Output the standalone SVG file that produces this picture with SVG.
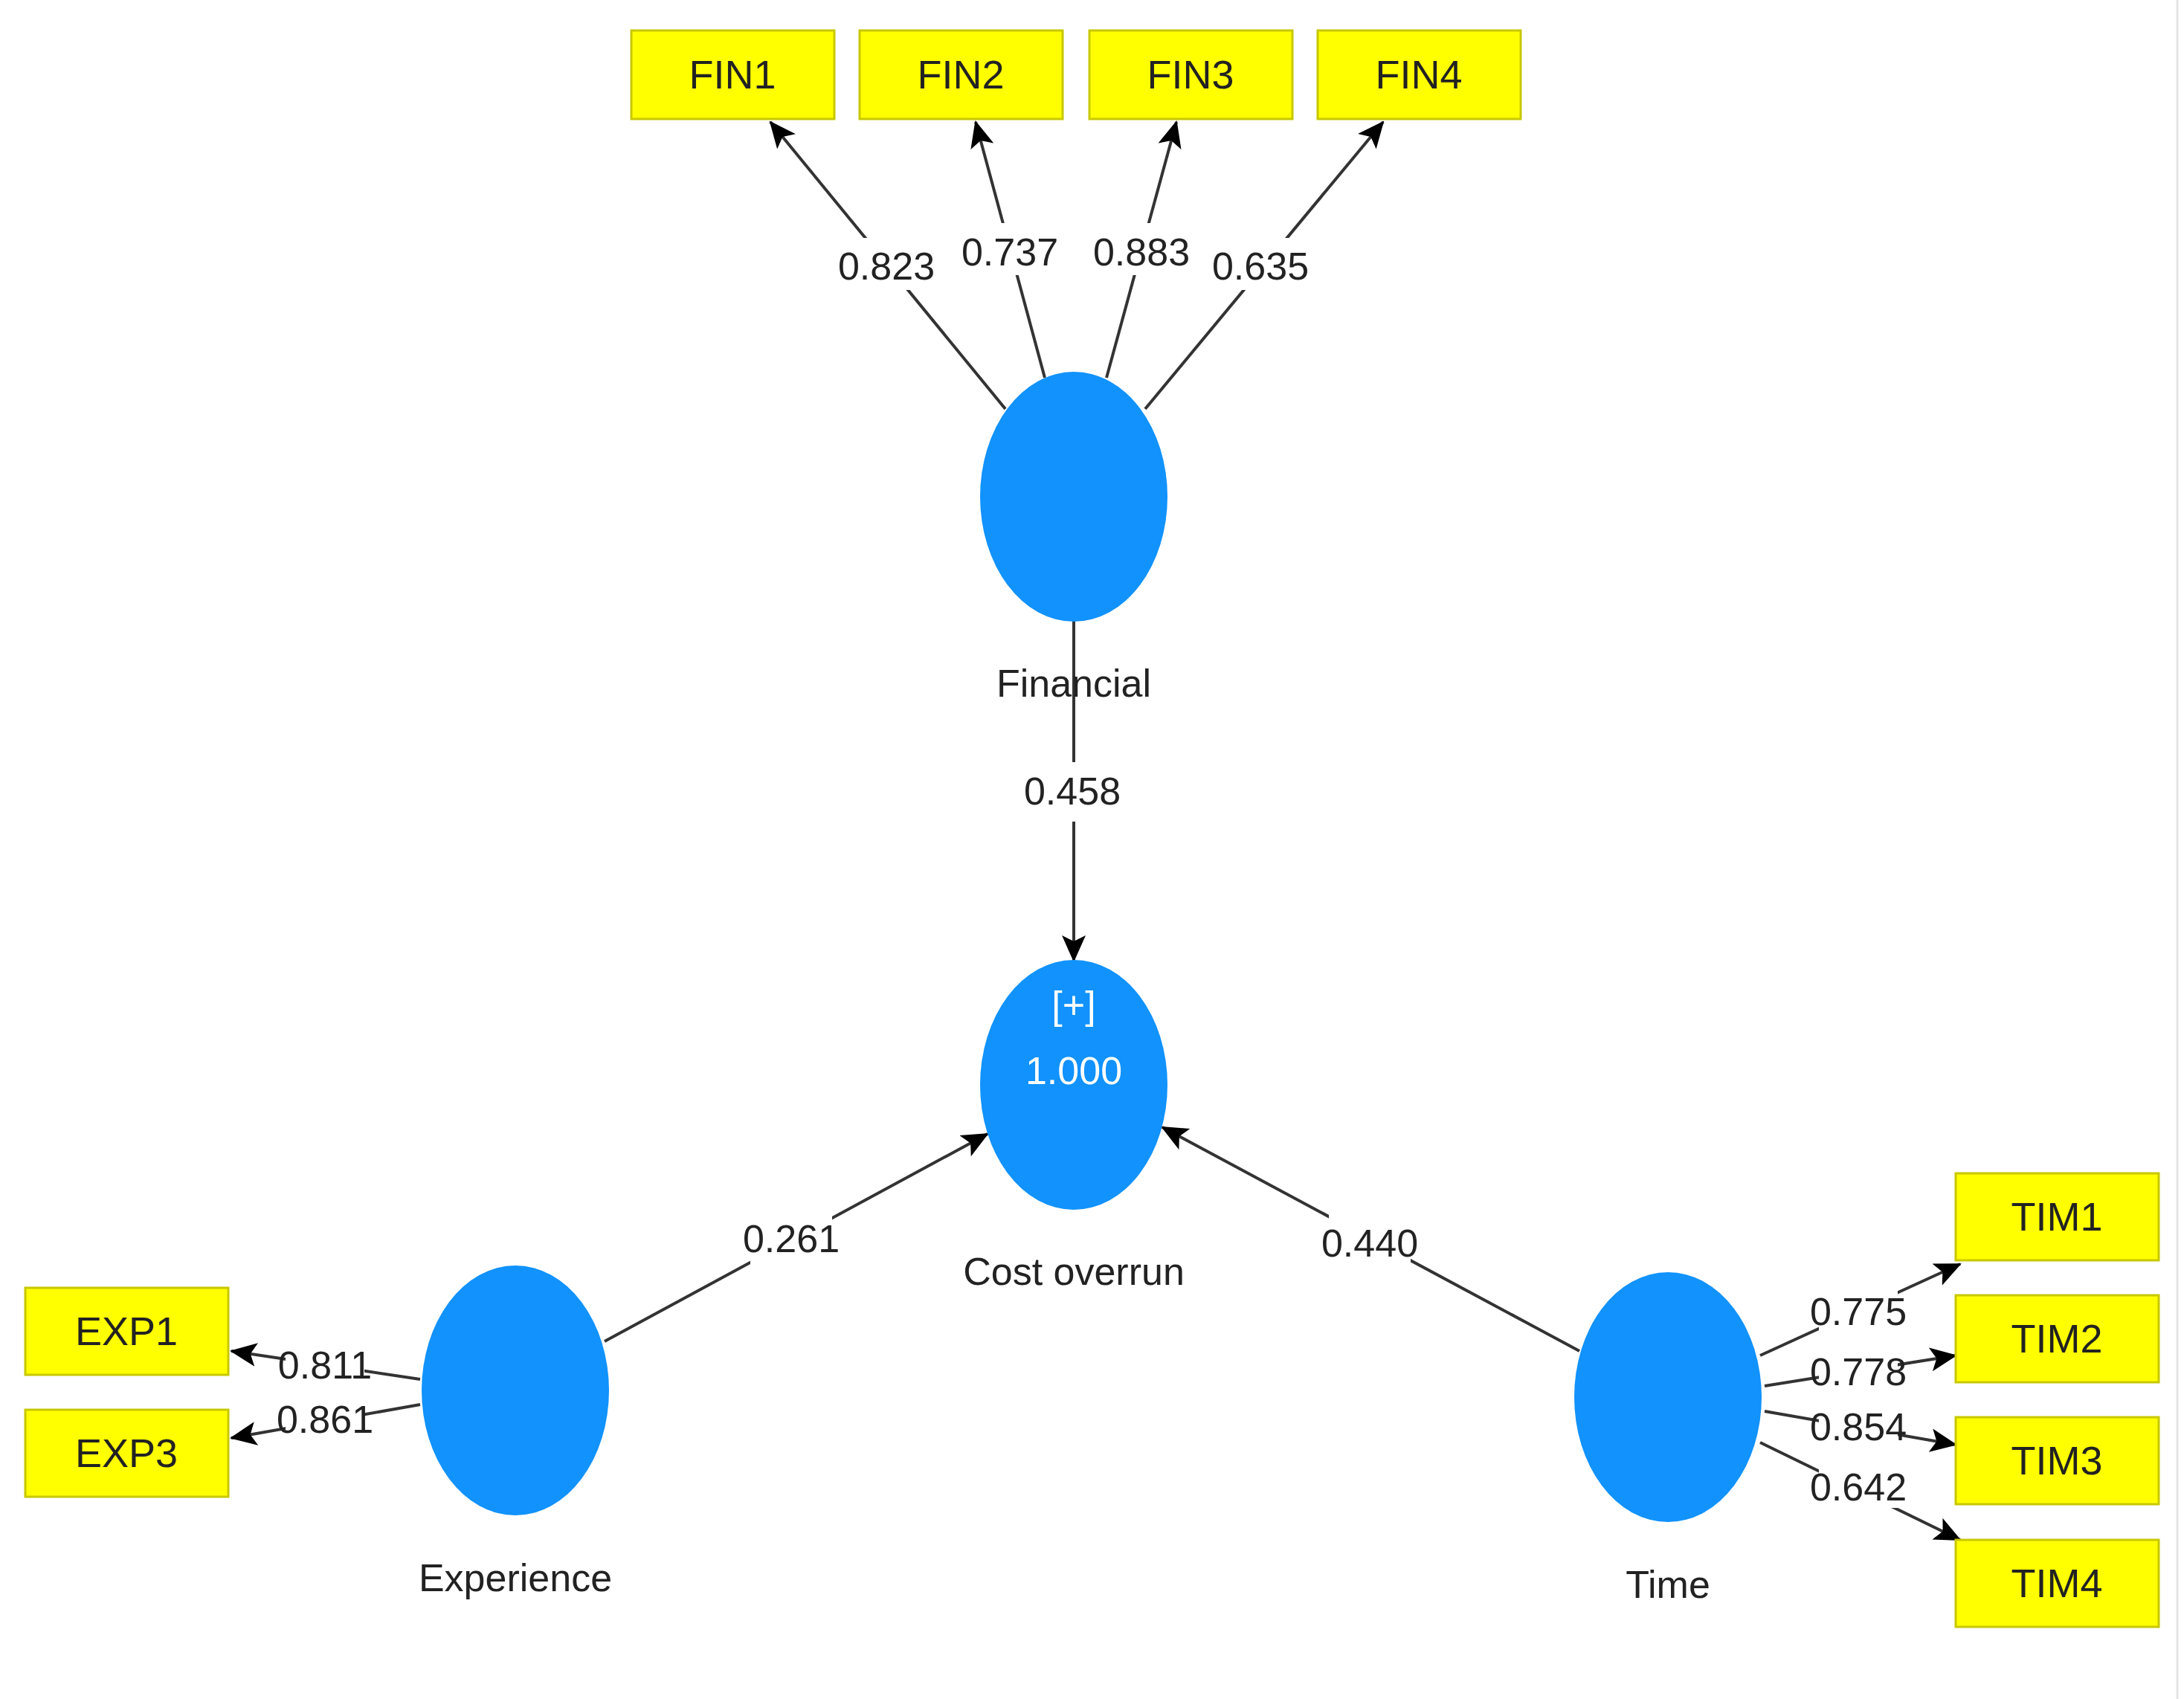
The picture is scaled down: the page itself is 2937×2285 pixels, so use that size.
<svg xmlns="http://www.w3.org/2000/svg" width="2937" height="2285" viewBox="0 0 2937 2285">
<style>
.ind rect{fill:#ffff00;stroke:#c8c800;stroke-width:3}
.ind text{font-family:"Liberation Sans Narrow","Liberation Sans",sans-serif;font-size:54px;fill:#222;text-anchor:middle}
.lat ellipse{fill:#1192fc}
.nm{font-family:"Liberation Sans Narrow","Liberation Sans",sans-serif;font-size:52px;fill:#222;text-anchor:middle}
.in{font-family:"Liberation Sans Narrow","Liberation Sans",sans-serif;font-size:52px;fill:#fff;text-anchor:middle}
.c line{stroke:#333;stroke-width:4;marker-end:url(#ah)}
.lb rect{fill:#fff}
.lb text{font-family:"Liberation Sans Narrow","Liberation Sans",sans-serif;font-size:52px;fill:#222;text-anchor:middle}
</style>
<defs>
<marker id="ah" markerUnits="userSpaceOnUse" markerWidth="36" markerHeight="32" refX="34" refY="16" orient="auto"><path d="M0,0 L36,16 L0,32 L8,16 Z" fill="#000"/></marker>
</defs>
<rect width="2937" height="2285" fill="#fff"/>
<line x1="2928" y1="0" x2="2928" y2="2285" stroke="#e4e4e4" stroke-width="3"/>
<g id="connectors" class="c">
<line x1="1352" y1="550" x2="1036" y2="164"/>
<line x1="1405" y1="508" x2="1312" y2="164"/>
<line x1="1488" y1="508" x2="1582" y2="164"/>
<line x1="1540" y1="550" x2="1860" y2="164"/>
<line x1="1444" y1="834" x2="1444" y2="1292"/>
<line x1="813" y1="1804" x2="1328" y2="1525"/>
<line x1="2124" y1="1817" x2="1563" y2="1516"/>
<line x1="565" y1="1855" x2="311" y2="1817"/>
<line x1="565" y1="1889" x2="311" y2="1934"/>
<line x1="2367" y1="1823" x2="2636" y2="1700"/>
<line x1="2373" y1="1864" x2="2630" y2="1823"/>
<line x1="2373" y1="1898" x2="2630" y2="1943"/>
<line x1="2367" y1="1940" x2="2636" y2="2071"/>
</g>
<g id="labels" class="lb">
<rect x="1137" y="320" width="110" height="70"/><text x="1192" y="376">0.823</text>
<rect x="1303" y="300" width="110" height="70"/><text x="1358" y="357">0.737</text>
<rect x="1480" y="300" width="110" height="70"/><text x="1535" y="357">0.883</text>
<rect x="1640" y="320" width="110" height="70"/><text x="1695" y="376">0.635</text>
<rect x="1387" y="1025" width="110" height="80"/><text x="1442" y="1082">0.458</text>
<rect x="1009" y="1628" width="110" height="76"/><text x="1064" y="1684">0.261</text>
<rect x="1787" y="1634" width="110" height="76"/><text x="1842" y="1690">0.440</text>
<rect x="384" y="1808" width="106" height="56"/><text x="437" y="1854">0.811</text>
<rect x="384" y="1882" width="106" height="56"/><text x="437" y="1927">0.861</text>
<rect x="2446" y="1736" width="106" height="56"/><text x="2499" y="1782">0.775</text>
<rect x="2446" y="1817" width="106" height="56"/><text x="2499" y="1863">0.778</text>
<rect x="2446" y="1891" width="106" height="56"/><text x="2499" y="1937">0.854</text>
<rect x="2446" y="1972" width="106" height="56"/><text x="2499" y="2018">0.642</text>
</g>
<g id="FIN1" class="ind"><rect x="849" y="41" width="273" height="119"/><text x="985" y="119">FIN1</text></g>
<g id="FIN2" class="ind"><rect x="1156" y="41" width="273" height="119"/><text x="1292" y="119">FIN2</text></g>
<g id="FIN3" class="ind"><rect x="1465" y="41" width="273" height="119"/><text x="1601" y="119">FIN3</text></g>
<g id="FIN4" class="ind"><rect x="1772" y="41" width="273" height="119"/><text x="1908" y="119">FIN4</text></g>
<g id="EXP1" class="ind"><rect x="34" y="1732" width="273" height="117"/><text x="170" y="1809">EXP1</text></g>
<g id="EXP3" class="ind"><rect x="34" y="1896" width="273" height="117"/><text x="170" y="1973">EXP3</text></g>
<g id="TIM1" class="ind"><rect x="2630" y="1578" width="273" height="117"/><text x="2766" y="1655">TIM1</text></g>
<g id="TIM2" class="ind"><rect x="2630" y="1742" width="273" height="117"/><text x="2766" y="1819">TIM2</text></g>
<g id="TIM3" class="ind"><rect x="2630" y="1906" width="273" height="117"/><text x="2766" y="1983">TIM3</text></g>
<g id="TIM4" class="ind"><rect x="2630" y="2071" width="273" height="117"/><text x="2766" y="2148">TIM4</text></g>
<g id="Financial" class="lat"><ellipse cx="1444" cy="668" rx="126" ry="168"/><rect x="1380" y="880" width="128" height="60" fill="none"/><text class="nm" x="1444" y="937">Financial</text></g>
<g id="CostOverrun" class="lat"><ellipse cx="1444" cy="1459" rx="126" ry="168"/><text class="in" x="1444" y="1370">[+]</text><text class="in" x="1444" y="1458">1.000</text><text class="nm" x="1444" y="1728">Cost overrun</text></g>
<g id="Experience" class="lat"><ellipse cx="693" cy="1870" rx="126" ry="168"/><text class="nm" x="693" y="2140">Experience</text></g>
<g id="Time" class="lat"><ellipse cx="2243" cy="1879" rx="126" ry="168"/><text class="nm" x="2243" y="2149">Time</text></g>
</svg>
